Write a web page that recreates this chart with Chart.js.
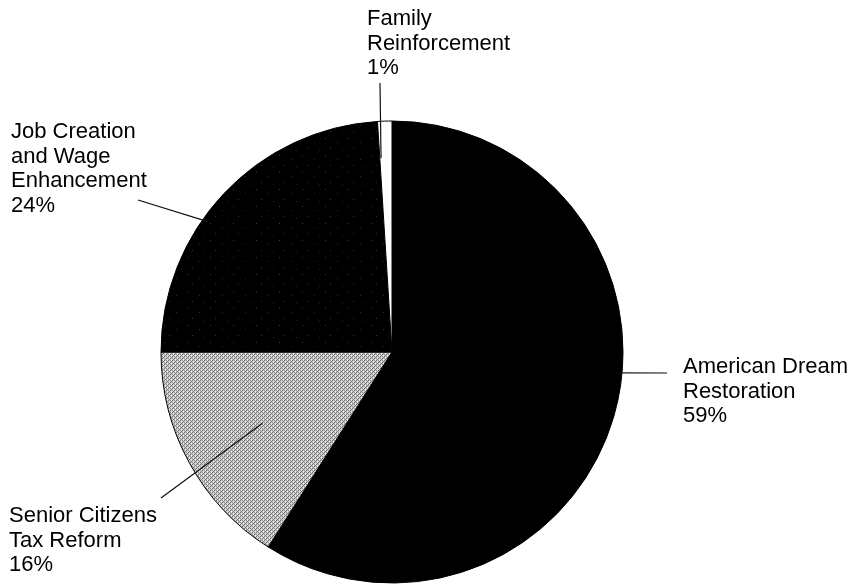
<!DOCTYPE html>
<html>
<head>
<meta charset="utf-8">
<script src="https://cdn.jsdelivr.net/npm/chart.js@4"></script>
<style>
  html, body { margin: 0; padding: 0; background: #fff; overflow: hidden; }
  #chart { display: block; }
</style>
</head>
<body>
<canvas id="chart" width="851" height="584"></canvas>
<script>
// slice order runs clockwise from 12 o'clock
const categories = ['American Dream Restoration', 'Senior Citizens Tax Reform', 'Job Creation and Wage Enhancement', 'Family Reinforcement']
const shares = [59, 16, 24, 1]
const labelLines = [
	['American Dream', 'Restoration'],
	['Senior Citizens', 'Tax Reform'],
	['Job Creation', 'and Wage', 'Enhancement'],
	['Family', 'Reinforcement']
]

// stipple textures like the scanned print
function makePattern(w, h, base, dots) {
	const c = document.createElement('canvas')
	c.width = w
	c.height = h
	const g = c.getContext('2d')
	g.fillStyle = base
	g.fillRect(0, 0, w, h)
	dots.forEach(d => {
		g.fillStyle = d[2]
		g.fillRect(d[0], d[1], 1, 1)
	})
	return g.createPattern(c, 'repeat')
}

const ctx = document.getElementById('chart').getContext('2d')

const grayStipple = makePattern(4, 4, '#c4c4c4', [
	[0, 0, '#6e6e6e'], [2, 0, '#8c8c8c'], [1, 1, '#f2f2f2'], [3, 1, '#7c7c7c'],
	[0, 2, '#949494'], [2, 2, '#6a6a6a'], [1, 3, '#808080'], [3, 3, '#ececec'],
	[3, 0, '#e6e6e6'], [1, 2, '#e0e0e0']
])
const darkSpeckle = makePattern(23, 17, '#000000', [
	[3, 2, '#3a3a3a'], [15, 6, '#2a2a2a'], [8, 12, '#333333'], [20, 14, '#222222']
])

// label placement: text left/baseline, leader inner anchor (fraction across slice, fraction of radius), leader outer end
const labelLayout = [
	{ x: 683, y: 373, anchor: [0.449, 0.97], end: [667, 373] },
	{ x: 9, y: 522, anchor: [0.5, 0.64], end: [161, 498] },
	{ x: 11, y: 138, anchor: [0.41, 0.97], end: [138, 200] },
	{ x: 367, y: 25, anchor: [0.1, 0.84], end: [380, 83] }
]

const pieLabels = {
	id: 'pieLabels',
	afterDraw(chart) {
		const c = chart.ctx
		const arcs = chart.getDatasetMeta(0).data
		c.save()
		c.strokeStyle = '#111'
		c.lineWidth = 1.2
		c.fillStyle = '#000'
		c.font = '22px "Liberation Sans", Arial, sans-serif'
		c.textBaseline = 'alphabetic'
		arcs.forEach((arc, i) => {
			const p = arc.getProps(['x', 'y', 'startAngle', 'endAngle', 'outerRadius'], true)
			const lay = labelLayout[i]
			const a = p.startAngle + (p.endAngle - p.startAngle) * lay.anchor[0]
			const r = p.outerRadius * lay.anchor[1]
			c.beginPath()
			c.moveTo(p.x + Math.cos(a) * r, p.y + Math.sin(a) * r)
			c.lineTo(lay.end[0], lay.end[1])
			c.stroke()
			const lines = labelLines[i].concat([shares[i] + '%'])
			lines.forEach((t, k) => c.fillText(t, lay.x, lay.y + k * 24.5))
		})
		c.restore()
	}
}

new Chart(ctx, {
	type: 'pie',
	data: {
		labels: categories,
		datasets: [{
			data: shares,
			backgroundColor: ['#000000', grayStipple, darkSpeckle, '#ffffff'],
			borderColor: '#000000',
			borderWidth: 1,
			radius: 231
		}]
	},
	options: {
		responsive: false,
		animation: false,
		events: [],
		layout: { padding: { left: 0, right: 67, top: 120, bottom: 0 } },
		plugins: {
			legend: { display: false },
			tooltip: { enabled: false }
		}
	},
	plugins: [pieLabels]
})
</script>
</body>
</html>
